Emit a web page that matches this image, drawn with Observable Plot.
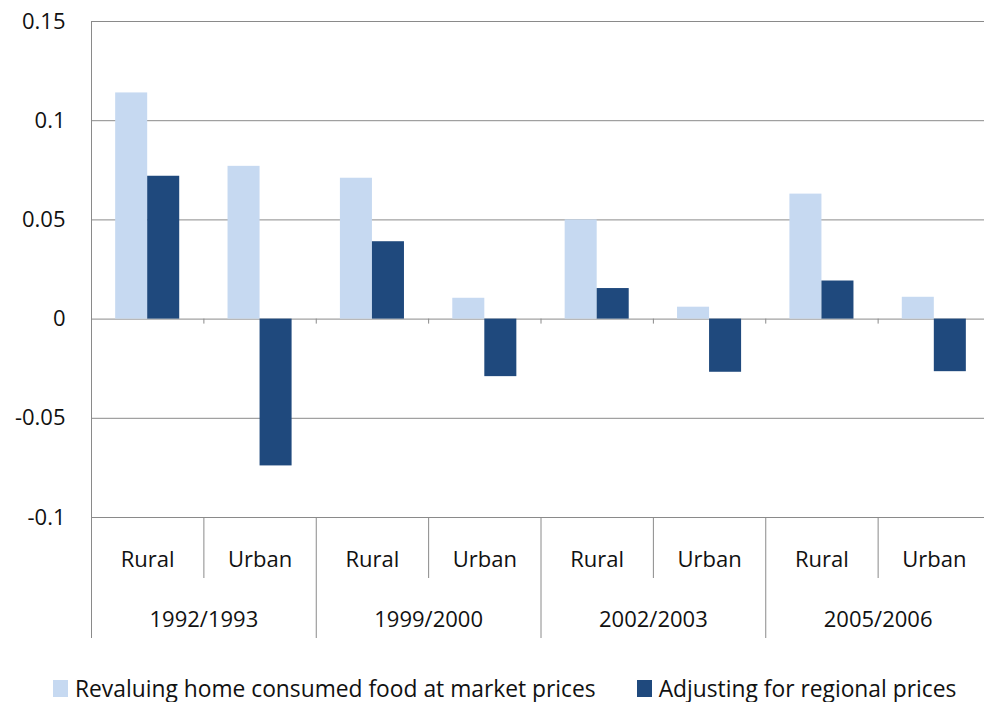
<!DOCTYPE html>
<html>
<head>
<meta charset="utf-8">
<script src="https://cdn.jsdelivr.net/npm/d3@7"></script>
<script src="https://cdn.jsdelivr.net/npm/@observablehq/plot@0.6"></script>
<style>
  html, body { margin: 0; padding: 0; background: #fff; }
  body { width: 984px; height: 702px; overflow: hidden; font-family: "Open Sans", sans-serif; }
  #legend { display: flex; align-items: center; height: 52px; margin-top: 12px; padding-left: 53px; font-size: 22.8px; color: #111; }
  .item { display: flex; align-items: center; }
  .swatch { width: 15px; height: 17px; margin-right: 7px; }
</style>
</head>
<body>
<div id="chart"></div>
<div id="legend"></div>
<script>
// Survey rounds and areas, one bar pair per (round, area)
const years = ["1992/1993", "1999/2000", "2002/2003", "2005/2006"];
const areas = ["Rural", "Urban"];
const seriesNames = ["Revaluing home consumed food at market prices", "Adjusting for regional prices"];
const seriesColors = ["#c6d9f1", "#1f497d"];

// Values in category order: 1992 Rural, 1992 Urban, 1999 Rural, ...
const revaluing = [0.114, 0.077, 0.071, 0.0105, 0.050, 0.006, 0.063, 0.011];
const regional  = [0.072, -0.074, 0.039, -0.029, 0.0154, -0.0268, 0.0192, -0.0265];

const yTicks = [-0.1, -0.05, 0, 0.05, 0.1, 0.15];
const yTickLabels = ["-0.1", "-0.05", "0", "0.05", "0.1", "0.15"];

// Long table for the bars
const categories = years.flatMap(y => areas.map(a => ({year: y, area: a})));
const rows = [];
categories.forEach((c, i) => {
  rows.push({i, ...c, s: 0, series: seriesNames[0], value: revaluing[i]});
  rows.push({i, ...c, s: 1, series: seriesNames[1], value: regional[i]});
});

const barFrac = 0.285;  // bar width as a share of one category slot
const grey = "#8a8a8a";
const fs = 22;
const areaCenters = categories.map((c, i) => i + 0.5);
const yearCenters = years.map((y, j) => 2 * j + 1);
const areaSeps = [1, 3, 5, 7];
const yearSeps = [0, 2, 4, 6];
const innerBounds = [1, 2, 3, 4, 5, 6, 7];

const chart = Plot.plot({
  width: 984,
  height: 650,
  marginLeft: 91,
  marginRight: 0,
  marginTop: 21,
  marginBottom: 133,
  style: {fontFamily: "Open Sans, sans-serif", fontSize: fs + "px", color: "#111", background: "#fff"},
  x: {domain: [0, 8], range: [91, 990]},
  y: {domain: [-0.1, 0.15]},
  color: {domain: seriesNames, range: seriesColors},
  marks: [
    Plot.gridY(yTicks, {stroke: grey, strokeOpacity: 1}),
    Plot.ruleX([0], {stroke: grey}),
    Plot.ruleX(innerBounds, {y1: 0, y2: 0, insetBottom: -5, stroke: grey}),
    Plot.rect(rows, {
      x1: d => d.i + 0.5 + (d.s === 0 ? -barFrac : 0),
      x2: d => d.i + 0.5 + (d.s === 0 ? 0 : barFrac),
      y1: 0,
      y2: "value",
      fill: "series"
    }),
    Plot.axisY({ticks: yTicks, tickSize: 0, tickPadding: 26, tickFormat: d => yTickLabels[yTicks.indexOf(d)], label: null, fontSize: fs}),
    // separators under the plot: short ones between areas, long ones between rounds
    Plot.axisX({ticks: areaSeps, tickSize: 61, tickFormat: () => "", stroke: grey, label: null}),
    Plot.axisX({ticks: yearSeps, tickSize: 121, tickFormat: () => "", stroke: grey, label: null}),
    Plot.axisX({ticks: areaCenters, tickSize: 0, tickPadding: 34, tickFormat: d => categories[Math.floor(d)].area, label: null, fontSize: fs}),
    Plot.axisX({ticks: yearCenters, tickSize: 0, tickPadding: 94, tickFormat: d => years[(d - 1) / 2], label: null, fontSize: fs})
  ]
});
document.getElementById("chart").appendChild(chart);

// Legend below the chart
const legend = d3.select("#legend");
seriesNames.forEach((name, k) => {
  const item = legend.append("div").attr("class", "item").style("margin-right", k === 0 ? "41px" : "0");
  item.append("div").attr("class", "swatch").style("background", seriesColors[k]);
  item.append("span").text(name);
});
</script>
</body>
</html>
